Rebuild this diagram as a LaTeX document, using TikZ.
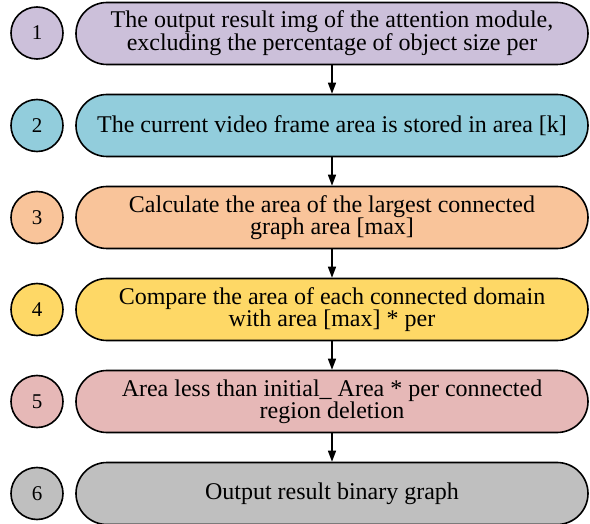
\documentclass[tikz,border=0pt]{standalone}
\usepackage{fontspec}
\setmainfont{Liberation Serif}
\usetikzlibrary{arrows.meta}
\definecolor{cpurple}{HTML}{CCC0DA}
\definecolor{cblue}{HTML}{92CDDC}
\definecolor{corange}{HTML}{F9C49A}
\definecolor{cyellow}{HTML}{FED866}
\definecolor{cpink}{HTML}{E6B8B7}
\definecolor{cgray}{HTML}{BFBFBF}
\begin{document}
\begin{tikzpicture}[x=1pt,y=1pt,
  stepbox/.style={draw=black, line width=1.6pt, rounded corners=31pt,
    minimum width=512pt, minimum height=62pt, inner sep=0pt,
    align=center, font=\fontsize{24}{22}\selectfont},
  numcirc/.style={draw=black, line width=1.6pt, circle, minimum size=52pt,
    inner sep=0pt, font=\fontsize{21}{22}\selectfont},
  flow/.style={line width=1.4pt, -{Triangle[length=11pt,width=8pt]}}]
\useasboundingbox (0,0) rectangle (590,-524);
\foreach \i/\y/\c in {1/33/cpurple,2/125.5/cblue,3/217.5/corange,4/309.5/cyellow,5/401.5/cpink,6/493.5/cgray}{
  \node[numcirc, fill=\c] (c\i) at (37,-\y) {\i};
}
\node[stepbox, fill=cpurple] (b1) at (332,-33.5) {The output result img of the attention module,\\excluding the percentage of object size per};
\node[stepbox, fill=cblue] (b2) at (332,-125.5) {The current video frame area is stored in area [k]};
\node[stepbox, fill=corange] (b3) at (332,-217.5) {Calculate the area of the largest connected\\graph area [max]};
\node[stepbox, fill=cyellow] (b4) at (332,-309.5) {Compare the area of each connected domain\\with area [max] * per};
\node[stepbox, fill=cpink] (b5) at (332,-401.5) {Area less than initial\_ Area * per connected\\region deletion};
\node[stepbox, fill=cgray] (b6) at (332,-493.5) {Output result binary graph};
\foreach \a/\b in {b1/b2,b2/b3,b3/b4,b4/b5,b5/b6}{
  \draw[flow] (\a.south) -- (\b.north);
}
\end{tikzpicture}
\end{document}
